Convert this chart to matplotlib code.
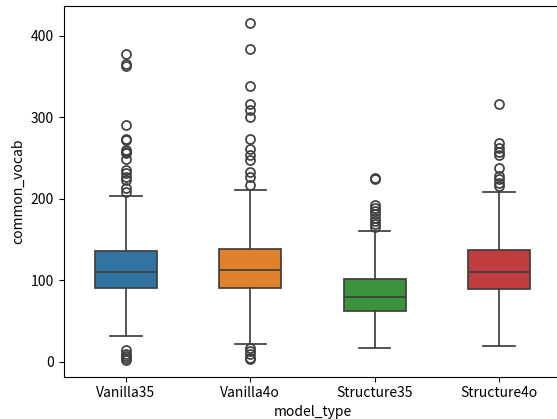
import matplotlib
matplotlib.use("Agg")
import matplotlib.pyplot as plt

plt.rcParams['font.family'] = ['Noto Sans CJK JP', 'DejaVu Sans']

categories = ["Vanilla35", "Vanilla4o", "Structure35", "Structure4o"]
q1 = [90.8, 90.8, 62.6, 89.0]
median = [110.0, 112.5, 79.8, 110.4]
q3 = [136.0, 139.0, 102.0, 137.0]
whisker_low = [31.5, 22.0, 17.0, 19.6]
whisker_high = [204.0, 211.0, 161.0, 209.0]
fliers = [
    [377.5, 365, 363, 291, 274, 272, 260, 258, 256, 249, 236, 232, 227, 223, 213, 209,
     14, 10, 7, 4, 2],
    [415.5, 384, 339, 317, 309, 301, 274, 261, 254, 248, 233, 227, 217,
     17, 13, 9, 5, 3],
    [226, 224, 193, 189, 185, 181, 177, 173, 169, 166],
    [316, 268, 263, 258, 254, 238, 228, 224, 220, 216],
]
colors = ["#3274a1", "#e1812c", "#3a923a", "#c03d3e"]

stats = []
for i, name in enumerate(categories):
    stats.append(dict(label=name, q1=q1[i], med=median[i], q3=q3[i],
                      whislo=whisker_low[i], whishi=whisker_high[i],
                      fliers=fliers[i]))

W, H = 557, 419
fig = plt.figure(figsize=(W / 100, H / 100), dpi=100)
left, right, top, bottom = 63.8, 561.2, 6.0, 376.7
ax = fig.add_axes([left / W, (H - bottom) / H, (right - left) / W, (bottom - top) / H])

lc = "#3f3f3f"
bp = ax.bxp(stats, positions=range(len(categories)), widths=0.5, patch_artist=True,
            boxprops=dict(edgecolor=lc, linewidth=1.25),
            medianprops=dict(color=lc, linewidth=1.25),
            whiskerprops=dict(color=lc, linewidth=1.25),
            capprops=dict(color=lc, linewidth=1.25),
            capwidths=0.25,
            flierprops=dict(marker='o', markerfacecolor='none', markeredgecolor=lc,
                            markersize=6.5, markeredgewidth=1.25))
for patch, c in zip(bp['boxes'], colors):
    patch.set_facecolor(c)

ax.set_xlim(-0.5, 3.5)
ax.set_ylim(-18.4, 436.8)
ax.set_yticks([0, 100, 200, 300, 400])
ax.set_xticks(range(len(categories)))
ax.set_xticklabels(categories)
ax.tick_params(labelsize=10)
ax.set_xlabel("model_type", fontsize=10, labelpad=3)
ax.set_ylabel("common_vocab", fontsize=10)

fig.savefig("out.png", dpi=100)
